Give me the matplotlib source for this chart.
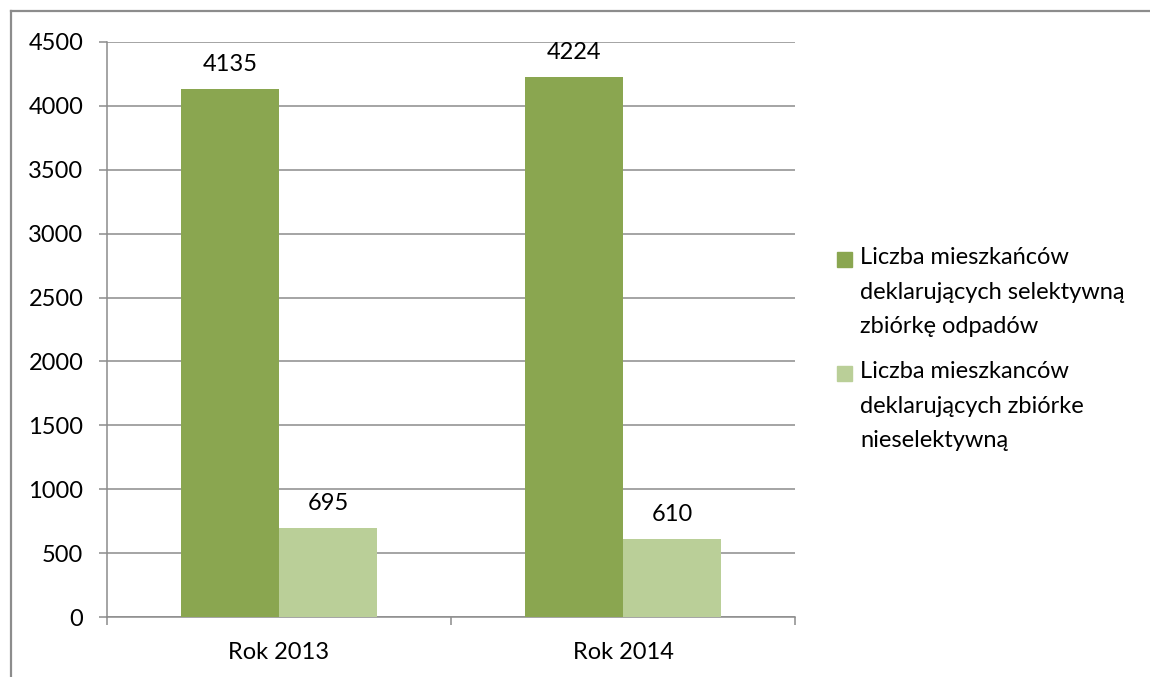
import matplotlib
matplotlib.use("Agg")
import matplotlib.pyplot as plt
from matplotlib.patches import Rectangle
from matplotlib.lines import Line2D
import numpy as np

plt.rcParams['font.family'] = ['Lato', 'DejaVu Sans']

# data
categories = ['Rok 2013', 'Rok 2014']
selective = [4135, 4224]
non_selective = [695, 610]
series_labels = ['Liczba mieszkańców\ndeklarujących selektywną\nzbiórkę odpadów',
                 'Liczba mieszkanców\ndeklarujących zbiórke\nnieselektywną']
colors = ['#8aa650', '#bacf98']
grid_col = '#8c8c8c'
fs = 17

fig = plt.figure(figsize=(11.5, 6.77), dpi=100)
W, H = 1150, 677

def fx(px):
    return px / W

def fy(py):
    return 1 - py / H

# outer chart border (top and left only visible)
fig.add_artist(Line2D([fx(11), 1], [fy(11), fy(11)], color=grid_col, lw=1.6))
fig.add_artist(Line2D([fx(11), fx(11)], [fy(11), 0], color=grid_col, lw=1.6))

ax = fig.add_axes([fx(107), fy(617), fx(795) - fx(107), fy(42) - fy(617)])

x = np.arange(len(categories))
w = 0.285
series = [selective, non_selective]
for i, vals in enumerate(series):
    xs = x + (i - 0.5) * w
    ax.bar(xs, vals, width=w, color=colors[i], zorder=3)
    for xi, v in zip(xs, vals):
        ax.annotate(str(v), (xi, v), xytext=(0, 13), textcoords='offset points',
                    ha='center', va='baseline', fontsize=fs, color='black')

ax.set_xlim(-0.5, len(categories) - 0.5)
ax.set_ylim(0, 4500)
ax.set_yticks(np.arange(0, 4501, 500))
ax.yaxis.grid(True, color=grid_col, lw=1.1, zorder=0)
ax.set_axisbelow(True)

ax.set_xticks(x)
ax.set_xticklabels(categories)
ax.set_xticks(np.arange(-0.5, len(categories)), minor=True)
ax.tick_params(axis='x', which='major', length=0, pad=18, labelsize=fs)
ax.tick_params(axis='x', which='minor', length=6, width=1.1, color=grid_col)
ax.tick_params(axis='y', length=6, width=1.1, color=grid_col, pad=11, labelsize=fs)

for s in ['top', 'right']:
    ax.spines[s].set_visible(False)
for s in ['left', 'bottom']:
    ax.spines[s].set_color(grid_col)
    ax.spines[s].set_linewidth(1.1)

# legend drawn manually so the swatch sits on the first text line
legend_top = [259, 373]
for i, lab in enumerate(series_labels):
    yc = legend_top[i]
    fig.add_artist(Rectangle((fx(837), fy(yc + 7.5)), fx(15), fy(yc - 7.5) - fy(yc + 7.5),
                             color=colors[i], transform=fig.transFigure))
    fig.text(fx(860), fy(yc - 12), lab, ha='left', va='top', fontsize=fs,
             linespacing=1.8, color='black')

fig.savefig('out.png', dpi=100)
